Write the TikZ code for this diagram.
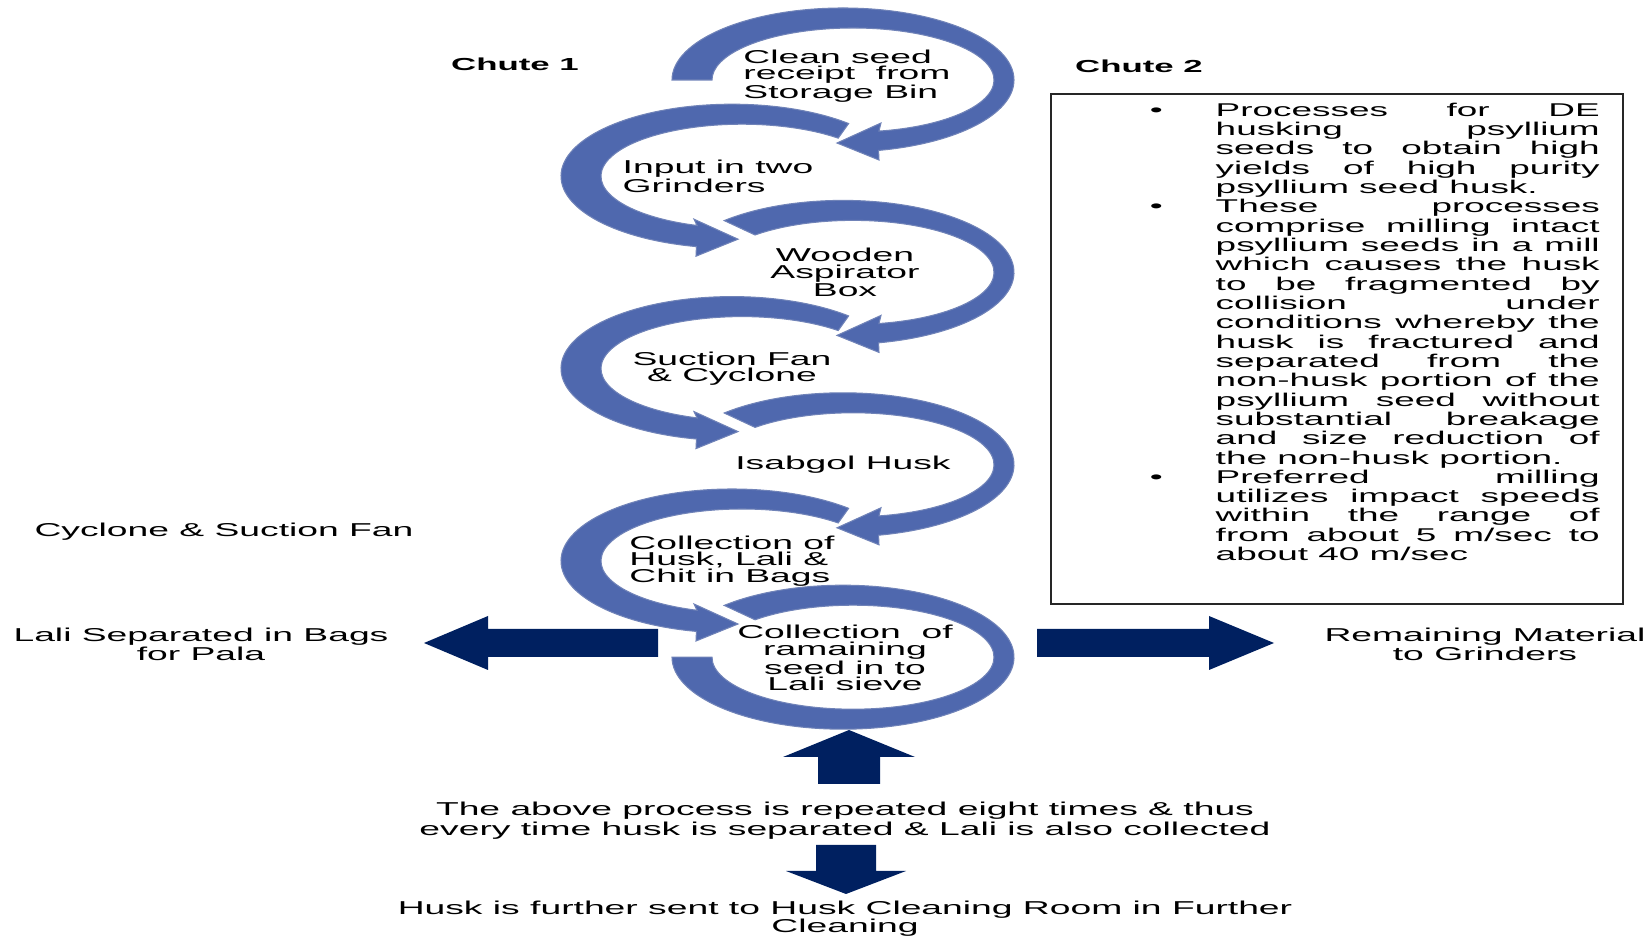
\documentclass[tikz,border=0pt]{standalone}
\usepackage{fontspec}
\setmainfont{Liberation Sans}[FakeStretch=2]
\usepackage{xcolor}
\definecolor{swirlBlue}{HTML}{4F68AE}
\definecolor{swirlEdge}{HTML}{7083B8}
\definecolor{blockNavy}{HTML}{002060}
\usetikzlibrary{calc}

\begin{document}
\begin{tikzpicture}[x=0.2mm, y=0.2mm,
  swirl/.style={fill=swirlBlue, draw=swirlEdge, line width=0.6pt},
  block/.style={fill=blockNavy},
  steptext/.style={inner sep=0pt, font=\fontsize{10.6}{9.3}\selectfont},
  sidetext/.style={inner sep=0pt, align=center, font=\fontsize{10.6}{10.8}\selectfont},
  chute/.style={inner sep=0pt, font=\fontsize{9.9}{11}\selectfont\bfseries}]
  \useasboundingbox (0,0) rectangle (1651,936);

  % ---- loop centres: right loops and left loops take turns ----
  \foreach \k/\cx in {1/843,2/732,3/843,4/732,5/843,6/732,7/843}
    \coordinate (c\k) at (\cx,{856-96.2*(\k-1)});

  % ---- right loops, head at the bottom pointing left ----
  \foreach \k/\ang in {1/180,3/134,5/134}
    \filldraw[swirl] ($(c\k)+(\ang:171 and 72)$)
      arc[start angle=\ang, end angle=-78, x radius=171, y radius=72]
      -- ($(c\k)+(36,-80)$) -- ($(c\k)+(-6,-63)$) -- ($(c\k)+(38,-43)$)
      -- ($(c\k)+(10,0)+(-79.4:141 and 52)$)
      arc[start angle=-79.4, end angle=\ang, x radius=141, y radius=52] -- cycle;

  % ---- left loops, head at the bottom pointing right ----
  \foreach \k in {2,4,6}
    \filldraw[swirl] ($(c\k)+(47:171 and 72)$)
      arc[start angle=47, end angle=258, x radius=171, y radius=72]
      -- ($(c\k)+(-36,-80)$) -- ($(c\k)+(6,-63)$) -- ($(c\k)+(-38,-43)$)
      -- ($(c\k)+(10,0)+(251.4:141 and 52)$)
      arc[start angle=251.4, end angle=47, x radius=141, y radius=52] -- cycle;

  % last loop closes round, no head
  \filldraw[swirl] ($(c7)+(134:171 and 72)$)
    arc[start angle=134, end angle=-180, x radius=171, y radius=72]
    -- ($(c7)+(-131,0)$)
    arc[start angle=-180, end angle=134, x radius=141, y radius=52] -- cycle;

  % ---- step texts ----
  \node[steptext, align=left] (seedbin) at ($(c1)+(4,4)$) {Clean seed\\receipt\ \ from\\Storage Bin};
  \node[steptext, align=left] (grinders) at ($(c2)+(-14,0)$) {Input in two\\Grinders};
  \node[steptext, align=center] (aspirator) at ($(c3)+(2,0)$) {Wooden\\Aspirator\\Box};
  \node[steptext, align=center] (suction) at (c4) {Suction Fan\\\& Cyclone};
  \node[steptext] (isabgol) at (c5) {Isabgol Husk};
  \node[steptext, align=left] (bagging) at ($(c6)+(0,0)$) {Collection of\\Husk, Lali \&\\Chit in Bags};
  \node[steptext, align=center] (sieve) at ($(c7)+(2,-1)$) {Collection\ \ of\\ramaining\\seed in to\\Lali sieve};

  % ---- block arrows ----
  \fill[block] (658,307) -- (488,307) -- (488,320) -- (424,293) -- (488,266) -- (488,279) -- (658,279) -- cycle;
  \fill[block] (1037,307) -- (1209,307) -- (1209,320) -- (1274,293) -- (1209,266) -- (1209,279) -- (1037,279) -- cycle;
  \fill[block] (818,152) -- (818,179) -- (783,179) -- (849,206) -- (915,179) -- (880,179) -- (880,152) -- cycle;
  \fill[block] (816,91) -- (816,65) -- (786,65) -- (846,42) -- (906,65) -- (876,65) -- (876,91) -- cycle;

  % ---- side texts ----
  \node[chute] (chuteone) at (515,872) {Chute 1};
  \node[chute] (chutetwo) at (1139,870) {Chute 2};
  \node[sidetext] (cyclone) at (224,404) {Cyclone \& Suction Fan};
  \node[sidetext] (lali) at (201,292) {Lali Separated in Bags\\for Pala};
  \node[sidetext] (remaining) at (1485,292) {Remaining Material\\to Grinders};
  \node[sidetext, font=\fontsize{10.6}{11.4}\selectfont] (repeat) at (845,115)
    {The above process is repeated eight times \& thus\\every time husk is separated \& Lali is also collected};
  \node[sidetext, font=\fontsize{10.6}{10.2}\selectfont] (cleaning) at (845,17)
    {Husk is further sent to Husk Cleaning Room in Further\\Cleaning};

  % ---- notes box for chute 2 ----
  \node[draw=black!85, line width=0.7pt, minimum width=114.4mm, minimum height=102mm, inner sep=0pt]
    (notebox) at (1337,587) {};
  \node[anchor=north west, inner sep=0pt, text width=90.4mm, align=justify,
        font=\fontsize{10.5}{11}\selectfont] (notes) at ($(notebox.north west)+(97,-3)$)
  {\tolerance=10000 \hbadness=10000
   \begin{list}{\textbullet}{\setlength\leftmargin{13.6mm}\setlength\labelwidth{3mm}%
     \setlength\labelsep{10.6mm}\setlength\topsep{0pt}\setlength\partopsep{0pt}%
     \setlength\itemsep{0pt}\setlength\parsep{0pt}}
   \item Processes for DE\linebreak husking psyllium\linebreak seeds to obtain high\linebreak
     yields of high purity\linebreak psyllium seed husk.
   \item These processes\linebreak comprise milling intact\linebreak psyllium seeds in a mill\linebreak
     which causes the husk\linebreak to be fragmented by\linebreak collision under\linebreak
     conditions whereby the\linebreak husk is fractured and\linebreak separated from the\linebreak
     non-husk portion of the\linebreak psyllium seed without\linebreak substantial breakage\linebreak
     and size reduction of\linebreak the non-husk portion.
   \item Preferred milling\linebreak utilizes impact speeds\linebreak within the range of\linebreak
     from about 5 m/sec to\linebreak about 40 m/sec
   \end{list}};
\end{tikzpicture}
\end{document}
